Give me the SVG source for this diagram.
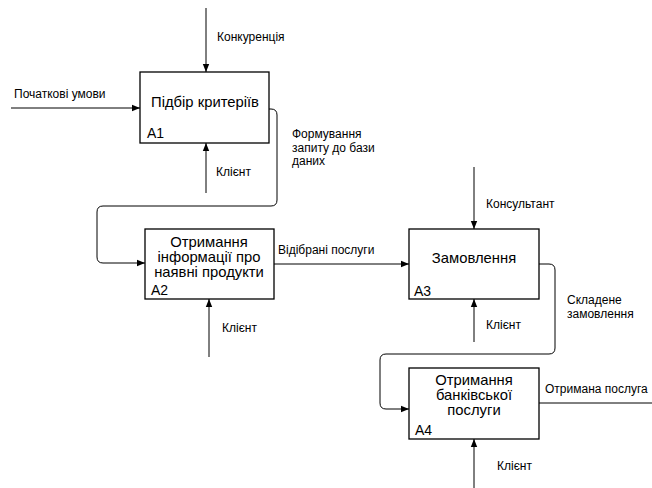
<svg xmlns="http://www.w3.org/2000/svg" width="652" height="488" viewBox="0 0 652 488">
<defs>
<marker id="ah" viewBox="0 0 10 10" refX="10" refY="5" markerWidth="8" markerHeight="8" markerUnits="userSpaceOnUse" orient="auto">
<path d="M0,1 L10,5 L0,9 Z" fill="#000"/>
</marker>
</defs>
<style>
.box{fill:#fff;stroke:#000;stroke-width:1.3}
.ln{fill:none;stroke:#000;stroke-width:1}
.t{font-family:"Liberation Sans",Arial,sans-serif;font-size:14.8px;fill:#000;text-anchor:middle}
.id{font-family:"Liberation Sans",Arial,sans-serif;font-size:14px;fill:#000}
.lb{font-family:"Liberation Sans",Arial,sans-serif;font-size:12px;fill:#000}
</style>
<rect width="652" height="488" fill="#fff"/>
<g id="connectors">
<path class="ln" marker-end="url(#ah)" d="M206,8 V72"/>
<path class="ln" marker-end="url(#ah)" d="M11,108 H140"/>
<path class="ln" marker-end="url(#ah)" d="M206,193 V143"/>
<path class="ln" marker-end="url(#ah)" d="M269,109 H271 Q277,109 277,115 V200 Q277,206 271,206 H103 Q97,206 97,212 V257 Q97,263 103,263 H145"/>
<path class="ln" marker-end="url(#ah)" d="M274,264 H409"/>
<path class="ln" marker-end="url(#ah)" d="M209,357 V299"/>
<path class="ln" marker-end="url(#ah)" d="M474,167 V229"/>
<path class="ln" marker-end="url(#ah)" d="M474,342 V299"/>
<path class="ln" marker-end="url(#ah)" d="M539,264 H549 Q555,264 555,270 V348 Q555,354 549,354 H386 Q380,354 380,360 V403 Q380,409 386,409 H409"/>
<path class="ln" d="M539,403 H652"/>
<path class="ln" marker-end="url(#ah)" d="M474,488 V439"/>
<text class="lb" x="217" y="41">Конкуренція</text>
<text class="lb" x="14" y="98">Початкові умови</text>
<text class="lb" x="216" y="176">Клієнт</text>
<text class="lb" x="292" y="138">Формування</text>
<text class="lb" x="292" y="151.5">запиту до бази</text>
<text class="lb" x="292" y="165">даних</text>
<text class="lb" x="278" y="254">Відібрані послуги</text>
<text class="lb" x="222" y="332">Клієнт</text>
<text class="lb" x="486" y="208">Консультант</text>
<text class="lb" x="486" y="329">Клієнт</text>
<text class="lb" x="567" y="304">Складене</text>
<text class="lb" x="567" y="317.5">замовлення</text>
<text class="lb" x="545" y="393">Отримана послуга</text>
<text class="lb" x="497" y="470">Клієнт</text>
</g>
<g id="A1">
<rect class="box" x="140" y="72" width="129" height="71"/>
<text class="t" x="205" y="107">Підбір критеріїв</text>
<text class="id" x="147" y="138">A1</text>
</g>
<g id="A2">
<rect class="box" x="145" y="229" width="129" height="70"/>
<text class="t" x="209" y="247">Отримання</text>
<text class="t" x="209" y="262">інформації про</text>
<text class="t" x="209" y="277">наявні продукти</text>
<text class="id" x="151" y="295">A2</text>
</g>
<g id="A3">
<rect class="box" x="409" y="229" width="130" height="70"/>
<text class="t" x="474" y="263">Замовлення</text>
<text class="id" x="414" y="296">A3</text>
</g>
<g id="A4">
<rect class="box" x="409" y="368" width="130" height="71"/>
<text class="t" x="474" y="385">Отримання</text>
<text class="t" x="474" y="400">банківської</text>
<text class="t" x="474" y="415">послуги</text>
<text class="id" x="415" y="435">A4</text>
</g>
</svg>
